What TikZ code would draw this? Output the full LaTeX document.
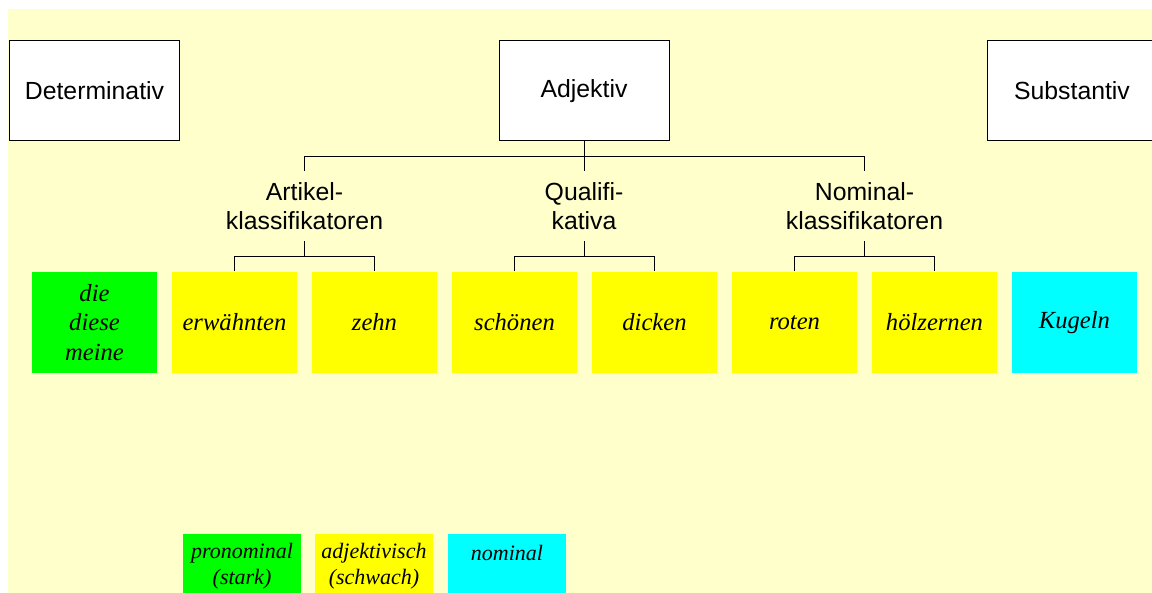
\documentclass[tikz,border=0pt]{standalone}
\usepackage{fontspec}
\setmainfont{Liberation Serif}
\setsansfont{Liberation Sans}
\usepackage{tikz}
\usetikzlibrary{positioning,calc}
\definecolor{bgyellow}{HTML}{FFFFCC}
\definecolor{prongreen}{HTML}{00FF00}
\definecolor{adjyellow}{HTML}{FFFF00}
\definecolor{nomcyan}{HTML}{00FFFF}

\begin{document}
\begin{tikzpicture}[x=1pt,y=-1pt,line width=1pt,
  wordbox/.style={draw,fill=white,rectangle,minimum width=170,minimum height=100,inner sep=0pt,font=\sffamily\fontsize{24.8}{29}\selectfont},
  catlabel/.style={align=center,inner sep=0pt,minimum height=69,font=\sffamily\fontsize{24.8}{29}\selectfont},
  leafbox/.style={rectangle,minimum width=125,minimum height=101,inner sep=0pt,align=center,font=\fontsize{24.6}{29.5}\selectfont\itshape},
  legbox/.style={rectangle,minimum width=118,minimum height=64,inner sep=0pt,align=center,font=\fontsize{22}{26.5}\selectfont\itshape}]
\useasboundingbox (0,0) rectangle (1152,593);
\clip (0,0) rectangle (1152,593);
\fill[bgyellow] (8,9) rectangle (1160,600);
\node[wordbox] (det) at (94.5,91) {Determinativ};
\node[wordbox] (adj) at (584,91) {Adjektiv};
\node[wordbox] (subst) at (1072,91) {Substantiv};
\node[catlabel] (artkl) at (304.5,206.5) {Artikel-\\klassifikatoren};
\node[catlabel] (qual) at (584,206.5) {Qualifi-\\kativa};
\node[catlabel] (nomkl) at (864.5,206.5) {Nominal-\\klassifikatoren};
\node[leafbox,fill=prongreen] (die) at (94.5,322.5) {die\\diese\\meine};
\node[leafbox,fill=adjyellow] (erw) at (234.5,322.5) {erwähnten};
\node[leafbox,fill=adjyellow] (zehn) at (374.5,322.5) {zehn};
\node[leafbox,fill=adjyellow] (schoen) at (514.5,322.5) {schönen};
\node[leafbox,fill=adjyellow] (dick) at (654.5,322.5) {dicken};
\node[leafbox,fill=adjyellow] (rot) at (794.5,322.5) {roten};
\node[leafbox,fill=adjyellow] (holz) at (934.5,322.5) {hölzernen};
\node[leafbox,fill=nomcyan] (kug) at (1074.5,322.5) {Kugeln};
\node[legbox,fill=prongreen] (legpro) at (242,566) {pronominal\\(stark)};
\node[legbox,fill=adjyellow] (legadj) at (374,566) {adjektivisch\\(schwach)};
\node[legbox,fill=nomcyan] (legnom) at (507,566) {nominal\\\mbox{}};
\draw (adj.south) -- (qual.north);
\draw (artkl.north) -- ++(0,-15) -| (nomkl.north);
\draw (erw.north) -- ++(0,-15) -| (zehn.north);
\draw (artkl.south) -- ++(0,16);
\draw (schoen.north) -- ++(0,-15) -| (dick.north);
\draw (qual.south) -- ++(0,16);
\draw (rot.north) -- ++(0,-15) -| (holz.north);
\draw (nomkl.south) -- ++(0,16);
\end{tikzpicture}
\end{document}
